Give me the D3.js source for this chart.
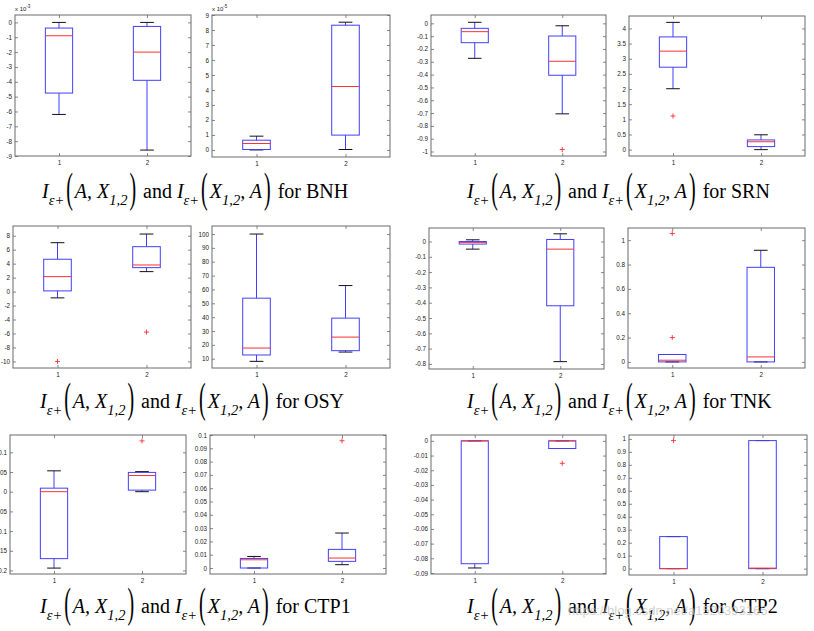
<!DOCTYPE html>
<html>
<head>
<meta charset="utf-8">
<script src="https://cdn.jsdelivr.net/npm/d3@7/dist/d3.min.js"></script>
<style>
  body { margin: 0; background: #fff; }
  svg { display: block; }
</style>
</head>
<body>
<svg id="chart" width="814" height="631"></svg>
<script>
// ---------------- DATA ----------------
const xCategories = [1, 2];
const xTickLabels = ["1", "2"];

// each box: [lower whisker, Q1, median, Q3, upper whisker]
const bnhLeft = [[-6.2, -4.76, -0.9, -0.38, 0.0], [-8.6, -3.9, -2.0, -0.27, 0.0]];
const bnhLeftOut = [[], []];
const bnhLeftY = [-9, 0.5];
const bnhLeftTicks = [0, -1, -2, -3, -4, -5, -6, -7, -8, -9];

const bnhRight = [[0.0, 0.03, 0.43, 0.65, 0.92], [0.03, 0.99, 4.23, 8.32, 8.52]];
const bnhRightOut = [[], []];
const bnhRightY = [-0.47, 9];
const bnhRightTicks = [0, 1, 2, 3, 4, 5, 6, 7, 8, 9];

const srnLeft = [[-0.273, -0.151, -0.065, -0.039, 0.008], [-0.706, -0.405, -0.296, -0.099, -0.019]];
const srnLeftOut = [[], [-0.984]];
const srnLeftY = [-1.035, 0.065];
const srnLeftTicks = [0, -0.1, -0.2, -0.3, -0.4, -0.5, -0.6, -0.7, -0.8, -0.9, -1];

const srnRight = [[2.01, 2.72, 3.25, 3.72, 4.2], [0.0, 0.1, 0.26, 0.32, 0.49]];
const srnRightOut = [[1.11], []];
const srnRightY = [-0.21, 4.41];
const srnRightTicks = [0, 0.5, 1, 1.5, 2, 2.5, 3, 3.5, 4];

const osyLeft = [[-0.9, 0.1, 2.14, 4.63, 7.0], [2.86, 3.43, 3.81, 6.43, 8.24]];
const osyLeftOut = [[-10], [-5.8]];
const osyLeftY = [-10.94, 9.39];
const osyLeftTicks = [-10, -8, -6, -4, -2, 0, 2, 4, 6, 8];

const osyRight = [[8.1, 12.7, 17.7, 53.7, 100], [14.8, 15.8, 25.6, 39.3, 62.8]];
const osyRightOut = [[], []];
const osyRightY = [3.3, 105.8];
const osyRightTicks = [10, 20, 30, 40, 50, 60, 70, 80, 90, 100];

const tnkLeft = [[-0.05, -0.017, -0.006, 0.0, 0.011], [-0.785, -0.42, -0.05, 0.013, 0.05]];
const tnkLeftOut = [[], []];
const tnkLeftY = [-0.833, 0.088];
const tnkLeftTicks = [0, -0.1, -0.2, -0.3, -0.4, -0.5, -0.6, -0.7, -0.8];

const tnkRight = [[0.0, 0.0, 0.014, 0.061, 0.061], [0.0, 0.0, 0.041, 0.777, 0.917]];
const tnkRightOut = [[1.055, 0.2], []];
const tnkRightY = [-0.05, 1.1];
const tnkRightTicks = [0, 0.2, 0.4, 0.6, 0.8, 1];

const ctp1Left = [[-0.194, -0.17, 0.0, 0.009, 0.053], [0.0, 0.004, 0.041, 0.049, 0.051]];
const ctp1LeftOut = [[], [0.129]];
const ctp1LeftY = [-0.209, 0.144];
const ctp1LeftTicks = [-0.2, -0.15, -0.1, -0.05, 0, 0.05, 0.1];

const ctp1Right = [[0.0, 0.0, 0.0062, 0.0072, 0.0087], [0.0025, 0.005, 0.0075, 0.014, 0.0263]];
const ctp1RightOut = [[], [0.0957]];
const ctp1RightY = [-0.0045, 0.1];
const ctp1RightTicks = [0, 0.01, 0.02, 0.03, 0.04, 0.05, 0.06, 0.07, 0.08, 0.09, 0.1];

const ctp2Left = [[-0.0866, -0.0837, 0.0, 0.0, 0.0], [-0.0052, -0.0052, 0.0, 0.0, 0.0]];
const ctp2LeftOut = [[], [-0.0153]];
const ctp2LeftY = [-0.0907, 0.004];
const ctp2LeftTicks = [0, -0.01, -0.02, -0.03, -0.04, -0.05, -0.06, -0.07, -0.08, -0.09];

const ctp2Right = [[0.0, 0.0, 0.0, 0.247, 0.247], [0.0, 0.0, 0.004, 0.987, 0.987]];
const ctp2RightOut = [[0.987], []];
const ctp2RightY = [-0.049, 1.03];
const ctp2RightTicks = [0, 0.1, 0.2, 0.3, 0.4, 0.5, 0.6, 0.7, 0.8, 0.9, 1];

const problemNames = ["BNH", "SRN", "OSY", "TNK", "CTP1", "CTP2"];

// ---------------- LAYOUT ----------------
const panels = [
  { f: [15, 15, 191, 156], s: bnhLeft, o: bnhLeftOut, y: bnhLeftY, t: bnhLeftTicks, exp: "-3" },
  { f: [212, 15, 390, 157], s: bnhRight, o: bnhRightOut, y: bnhRightY, t: bnhRightTicks, exp: "-5" },
  { f: [431, 15, 606, 156], s: srnLeft, o: srnLeftOut, y: srnLeftY, t: srnLeftTicks },
  { f: [629, 16, 805, 156], s: srnRight, o: srnRightOut, y: srnRightY, t: srnRightTicks },
  { f: [13, 226, 191, 368], s: osyLeft, o: osyLeftOut, y: osyLeftY, t: osyLeftTicks },
  { f: [212, 226, 390, 368], s: osyRight, o: osyRightOut, y: osyRightY, t: osyRightTicks },
  { f: [429, 228, 604, 369], s: tnkLeft, o: tnkLeftOut, y: tnkLeftY, t: tnkLeftTicks },
  { f: [628, 228, 805, 368], s: tnkRight, o: tnkRightOut, y: tnkRightY, t: tnkRightTicks },
  { f: [10, 435, 186, 574], s: ctp1Left, o: ctp1LeftOut, y: ctp1LeftY, t: ctp1LeftTicks },
  { f: [210, 435, 386, 574], s: ctp1Right, o: ctp1RightOut, y: ctp1RightY, t: ctp1RightTicks },
  { f: [431, 435, 606, 574], s: ctp2Left, o: ctp2LeftOut, y: ctp2LeftY, t: ctp2LeftTicks },
  { f: [629, 435, 807, 575], s: ctp2Right, o: ctp2RightOut, y: ctp2RightY, t: ctp2RightTicks }
];
const captionPos = [[42, 198], [467, 198], [40, 408], [467, 408], [40, 613], [467, 613]];

const svg = d3.select("#chart");
svg.append("rect").attr("width", 814).attr("height", 631).attr("fill", "#fff");

const fmt = v => String(+v.toFixed(6));
const BLUE = "#4040ff", RED = "#ff3030", FRAME = "#6a6a6a";

panels.forEach(p => {
  const [x0, y0, x1, y1] = p.f;
  const x = d3.scaleLinear().domain([0.5, 2.5]).range([x0, x1]);
  const y = d3.scaleLinear().domain(p.y).range([y1, y0]);
  const g = svg.append("g");

  g.append("rect").attr("x", x0).attr("y", y0).attr("width", x1 - x0).attr("height", y1 - y0)
    .attr("fill", "#fff").attr("stroke", FRAME).attr("stroke-width", 1);

  const styleAxis = sel => {
    sel.select(".domain").remove();
    sel.selectAll(".tick line").attr("stroke", FRAME).attr("stroke-width", 0.8);
    sel.selectAll(".tick text").attr("fill", "#222")
      .style("font-family", "'Liberation Sans', Arial, sans-serif").style("font-size", "6.3px");
  };
  g.append("g").attr("transform", `translate(${x0},0)`)
    .call(d3.axisLeft(y).tickValues(p.t).tickFormat(fmt).tickSizeInner(-3).tickSizeOuter(0).tickPadding(3))
    .call(styleAxis);
  g.append("g").attr("transform", `translate(${x1},0)`)
    .call(d3.axisRight(y).tickValues(p.t).tickFormat("").tickSizeInner(-3).tickSizeOuter(0))
    .call(styleAxis);
  g.append("g").attr("transform", `translate(0,${y1})`)
    .call(d3.axisBottom(x).tickValues(xCategories).tickFormat((d, i) => xTickLabels[i]).tickSizeInner(-3).tickSizeOuter(0).tickPadding(4.5))
    .call(styleAxis);
  g.append("g").attr("transform", `translate(0,${y0})`)
    .call(d3.axisTop(x).tickValues(xCategories).tickFormat("").tickSizeInner(-3).tickSizeOuter(0))
    .call(styleAxis);

  if (p.exp) {
    const t = g.append("text").attr("x", x0).attr("y", y0 - 4)
      .style("font-family", "'Liberation Sans', Arial, sans-serif").style("font-size", "6px").attr("fill", "#222");
    t.append("tspan").text("x 10");
    t.append("tspan").attr("dy", -3).style("font-size", "4.5px").text(p.exp);
  }

  const bw = 0.155;
  p.s.forEach((b, i) => {
    const c = xCategories[i];
    const [lo, q1, med, q3, hi] = b;
    const xl = x(c - bw), xr = x(c + bw), xc = x(c);
    const cl = x(c - bw / 2), cr = x(c + bw / 2);
    g.append("line").attr("x1", xc).attr("x2", xc).attr("y1", y(q3)).attr("y2", y(hi)).attr("stroke", BLUE).attr("stroke-width", 1);
    g.append("line").attr("x1", xc).attr("x2", xc).attr("y1", y(q1)).attr("y2", y(lo)).attr("stroke", BLUE).attr("stroke-width", 1);
    g.append("line").attr("x1", cl).attr("x2", cr).attr("y1", y(hi)).attr("y2", y(hi)).attr("stroke", "#111").attr("stroke-width", 1);
    g.append("line").attr("x1", cl).attr("x2", cr).attr("y1", y(lo)).attr("y2", y(lo)).attr("stroke", "#111").attr("stroke-width", 1);
    g.append("rect").attr("x", xl).attr("y", y(q3)).attr("width", xr - xl).attr("height", Math.max(0.01, y(q1) - y(q3)))
      .attr("fill", "none").attr("stroke", BLUE).attr("stroke-width", 1);
    g.append("line").attr("x1", xl).attr("x2", xr).attr("y1", y(med)).attr("y2", y(med)).attr("stroke", RED).attr("stroke-width", 1);
    p.o[i].forEach(v => {
      const py = y(v);
      g.append("line").attr("x1", xc - 2.5).attr("x2", xc + 2.5).attr("y1", py).attr("y2", py).attr("stroke", RED).attr("stroke-width", 0.9);
      g.append("line").attr("x1", xc).attr("x2", xc).attr("y1", py - 2.5).attr("y2", py + 2.5).attr("stroke", RED).attr("stroke-width", 0.9);
    });
  });
});

// ---------------- CAPTIONS ----------------
function caption(x0, y0, name) {
  const g = svg.append("g").style("font-family", "'Liberation Serif', 'Times New Roman', serif").attr("fill", "#000");
  const pieces = [
    ["I", "it"], ["ε+", "sub"], ["(", "paren"], ["A, X", "it"], ["1,2", "sub"], [")", "paren"],
    [" and ", "rm"],
    ["I", "it"], ["ε+", "sub"], ["(", "paren"], ["X", "it"], ["1,2", "sub"], [", A", "it"], [")", "paren"],
    [" for " + name, "rm"]
  ];
  let x = x0;
  pieces.forEach(([txt, kind]) => {
    let t;
    if (kind === "paren") {
      x += 2;
      t = g.append("text").attr("transform", `translate(${x},${y0 + 3.6}) scale(1,2.15)`)
        .style("font-size", "20px").text(txt);
      x += t.node().getComputedTextLength() + 2;
    } else if (kind === "sub") {
      t = g.append("text").attr("x", x).attr("y", y0 + 6.5).style("font-size", "14.5px").style("font-style", "italic").text(txt);
      x += t.node().getComputedTextLength();
    } else {
      t = g.append("text").attr("x", x).attr("y", y0).style("font-size", "20px")
        .style("font-style", kind === "it" ? "italic" : "normal").attr("xml:space", "preserve")
        .style("white-space", "pre").text(txt);
      x += t.node().getComputedTextLength();
    }
  });
}
problemNames.forEach((n, i) => caption(captionPos[i][0], captionPos[i][1], n));

// watermark
svg.append("text").attr("x", 568).attr("y", 615)
  .style("font-family", "'Liberation Sans', Arial, sans-serif").style("font-size", "13px")
  .attr("fill", "#c4c4c4").attr("fill-opacity", 0.75)
  .text("https://blog.csdn.net/a1520393165");
</script>
</body>
</html>
